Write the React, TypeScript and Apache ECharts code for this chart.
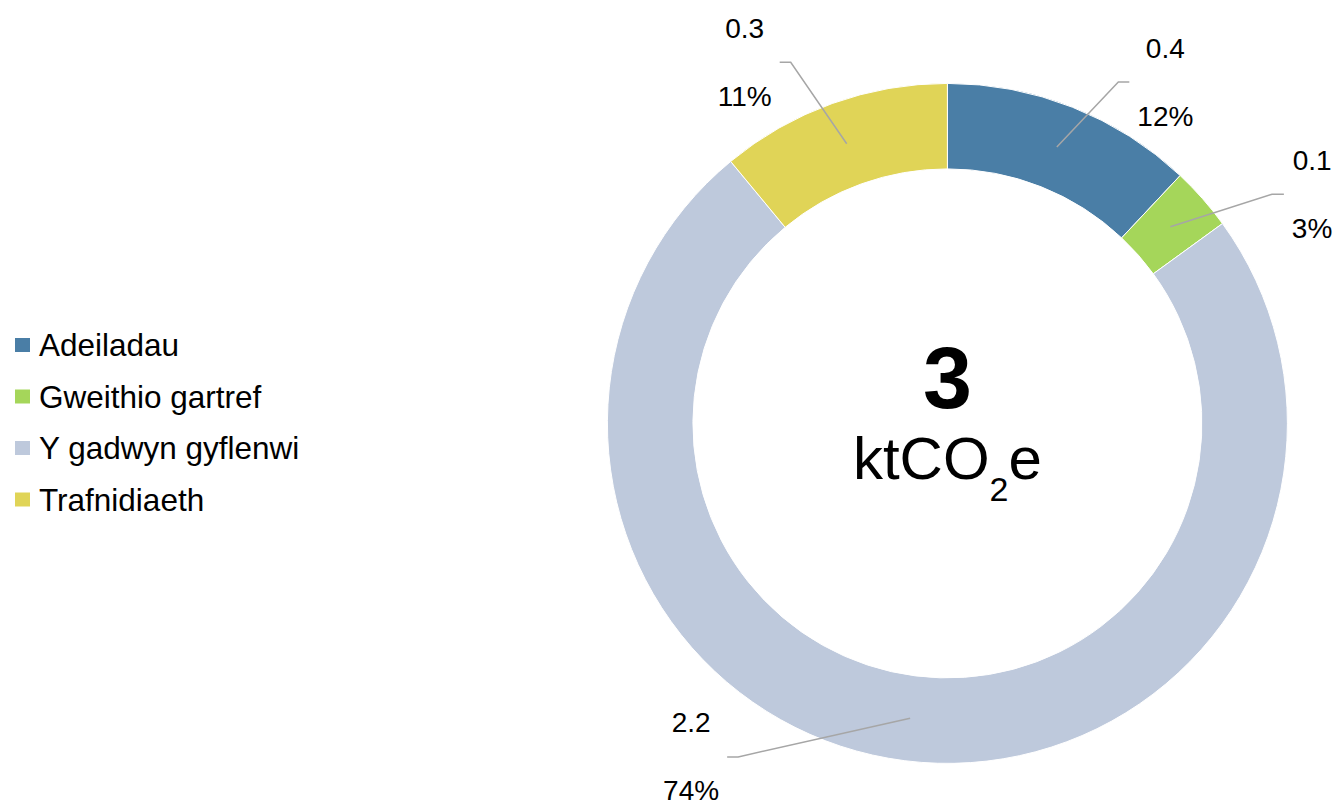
import React, { useEffect, useRef } from "react";
import * as echarts from "echarts";

// ---- data ----
const categories = ["Adeiladau", "Gweithio gartref", "Y gadwyn gyflenwi", "Trafnidiaeth"];
const values = [0.36, 0.09, 2.22, 0.33];
const colors = ["#4a7ea6", "#a5d65a", "#bec9dc", "#e0d457"];
const unitMain = "ktCO";
const unitSub = "2";
const unitEnd = "e";

// ---- layout ----
const FONT = "'Liberation Sans', Arial, Helvetica, sans-serif";
const CX = 947.4;
const CY = 423.4;
const R_IN = 254.5;
const R_OUT = 340;
// leader line: [elbow dx, elbow dy, horizontal tail] relative to slice mid-ring point
const leaderOffsets = [
  [61.5, -65, 11], // Adeiladau
  [101.5, -32.5, 12], // Gweithio gartref
  [-172, 38.6, -11], // Y gadwyn gyflenwi
  [-56, -81.5, -11], // Trafnidiaeth
];

const total = values.reduce((a, b) => a + b, 0);

function midAngle(i: number) {
  let cum = 0;
  for (let j = 0; j < i; j++) cum += values[j];
  return ((cum + values[i] / 2) / total) * 2 * Math.PI;
}

function measure(text: string, font: string) {
  const c = document.createElement("canvas").getContext("2d")!;
  c.font = font;
  return c.measureText(text).width;
}

export default function App() {
  const ref = useRef<HTMLDivElement>(null);
  useEffect(() => {
    if (!ref.current) return;
    const chart = echarts.init(ref.current, undefined, { renderer: "svg" });

    const mainSize = 60;
    const subSize = 34;
    const wMain = measure(unitMain, `${mainSize}px ${FONT}`);
    const wSub = measure(unitSub, `${subSize}px ${FONT}`);
    const wEnd = measure(unitEnd, `${mainSize}px ${FONT}`);
    const startX = CX - (wMain + wSub + wEnd) / 2;
    const unitY = 458;

    const pieData = categories.map((name, i) => ({ name, value: values[i] }));

    chart.setOption({
      animation: false,
      color: colors,
      legend: {
        orient: "vertical",
        left: 13,
        top: 329,
        padding: 0,
        itemWidth: 17,
        itemHeight: 16,
        itemGap: 19.5,
        icon: "rect",
        data: categories,
        textStyle: {
          fontSize: 31.5,
          lineHeight: 32,
          color: "#000",
          fontFamily: FONT,
          padding: [0, 0, 0, 3],
        },
      },
      graphic: [
        {
          type: "text",
          x: CX,
          y: 377.5,
          style: {
            text: String(Math.round(total)),
            fontSize: 88,
            fontWeight: "bold",
            fontFamily: FONT,
            fill: "#000",
            align: "center",
            verticalAlign: "middle",
          },
        },
        {
          type: "text",
          x: startX,
          y: unitY,
          style: {
            text: unitMain,
            fontSize: mainSize,
            fontFamily: FONT,
            fill: "#000",
            align: "left",
            verticalAlign: "middle",
          },
        },
        {
          type: "text",
          x: startX + wMain,
          y: unitY + 31,
          style: {
            text: unitSub,
            fontSize: subSize,
            fontFamily: FONT,
            fill: "#000",
            align: "left",
            verticalAlign: "middle",
          },
        },
        {
          type: "text",
          x: startX + wMain + wSub,
          y: unitY,
          style: {
            text: unitEnd,
            fontSize: mainSize,
            fontFamily: FONT,
            fill: "#000",
            align: "left",
            verticalAlign: "middle",
          },
        },
      ],
      series: [
        {
          type: "pie",
          z: 2,
          center: [CX, CY],
          radius: [R_IN, R_OUT],
          startAngle: 90,
          clockwise: true,
          emphasis: { disabled: true },
          itemStyle: { borderColor: "#fff", borderWidth: 1 },
          data: pieData,
          label: { show: false },
          labelLine: { show: false },
        },
        {
          type: "pie",
          z: 3,
          center: [CX, CY],
          radius: [R_IN, R_OUT],
          startAngle: 90,
          clockwise: true,
          percentPrecision: 0,
          avoidLabelOverlap: false,
          emphasis: { disabled: true },
          legendHoverLink: false,
          itemStyle: { color: "rgba(0,0,0,0)", borderWidth: 0 },
          data: pieData,
          label: {
            show: true,
            position: "outside",
            formatter: (p: any) =>
              `{a|${Number(p.value).toFixed(1)}}\n{a|${Math.round(p.percent)}%}`,
            rich: {
              a: {
                fontSize: 28,
                lineHeight: 68,
                align: "center",
                color: "#000",
                fontFamily: FONT,
              },
            },
          },
          labelLine: {
            show: true,
            length: 20,
            length2: 10,
            lineStyle: { color: "#a6a6a6", width: 1.5 },
          },
          labelLayout: (p: any) => {
            const i = p.dataIndex;
            const a = midAngle(i);
            const rm = (R_IN + R_OUT) / 2;
            const sx = CX + rm * Math.sin(a);
            const sy = CY - rm * Math.cos(a);
            const [dx, dy, h] = leaderOffsets[i];
            const ex = sx + dx;
            const ey = sy + dy;
            const tx = ex + h;
            const right = h > 0;
            return {
              x: tx + (right ? 8 : -8),
              y: ey,
              align: right ? "left" : "right",
              verticalAlign: "middle",
              labelLinePoints: [
                [sx, sy],
                [ex, ey],
                [tx, ey],
              ],
            };
          },
        },
      ],
    });
    return () => chart.dispose();
  }, []);
  return (
    <div
      ref={ref}
      style={{ position: "fixed", left: 0, top: 0, width: 1338, height: 806, background: "#fff" }}
    />
  );
}
